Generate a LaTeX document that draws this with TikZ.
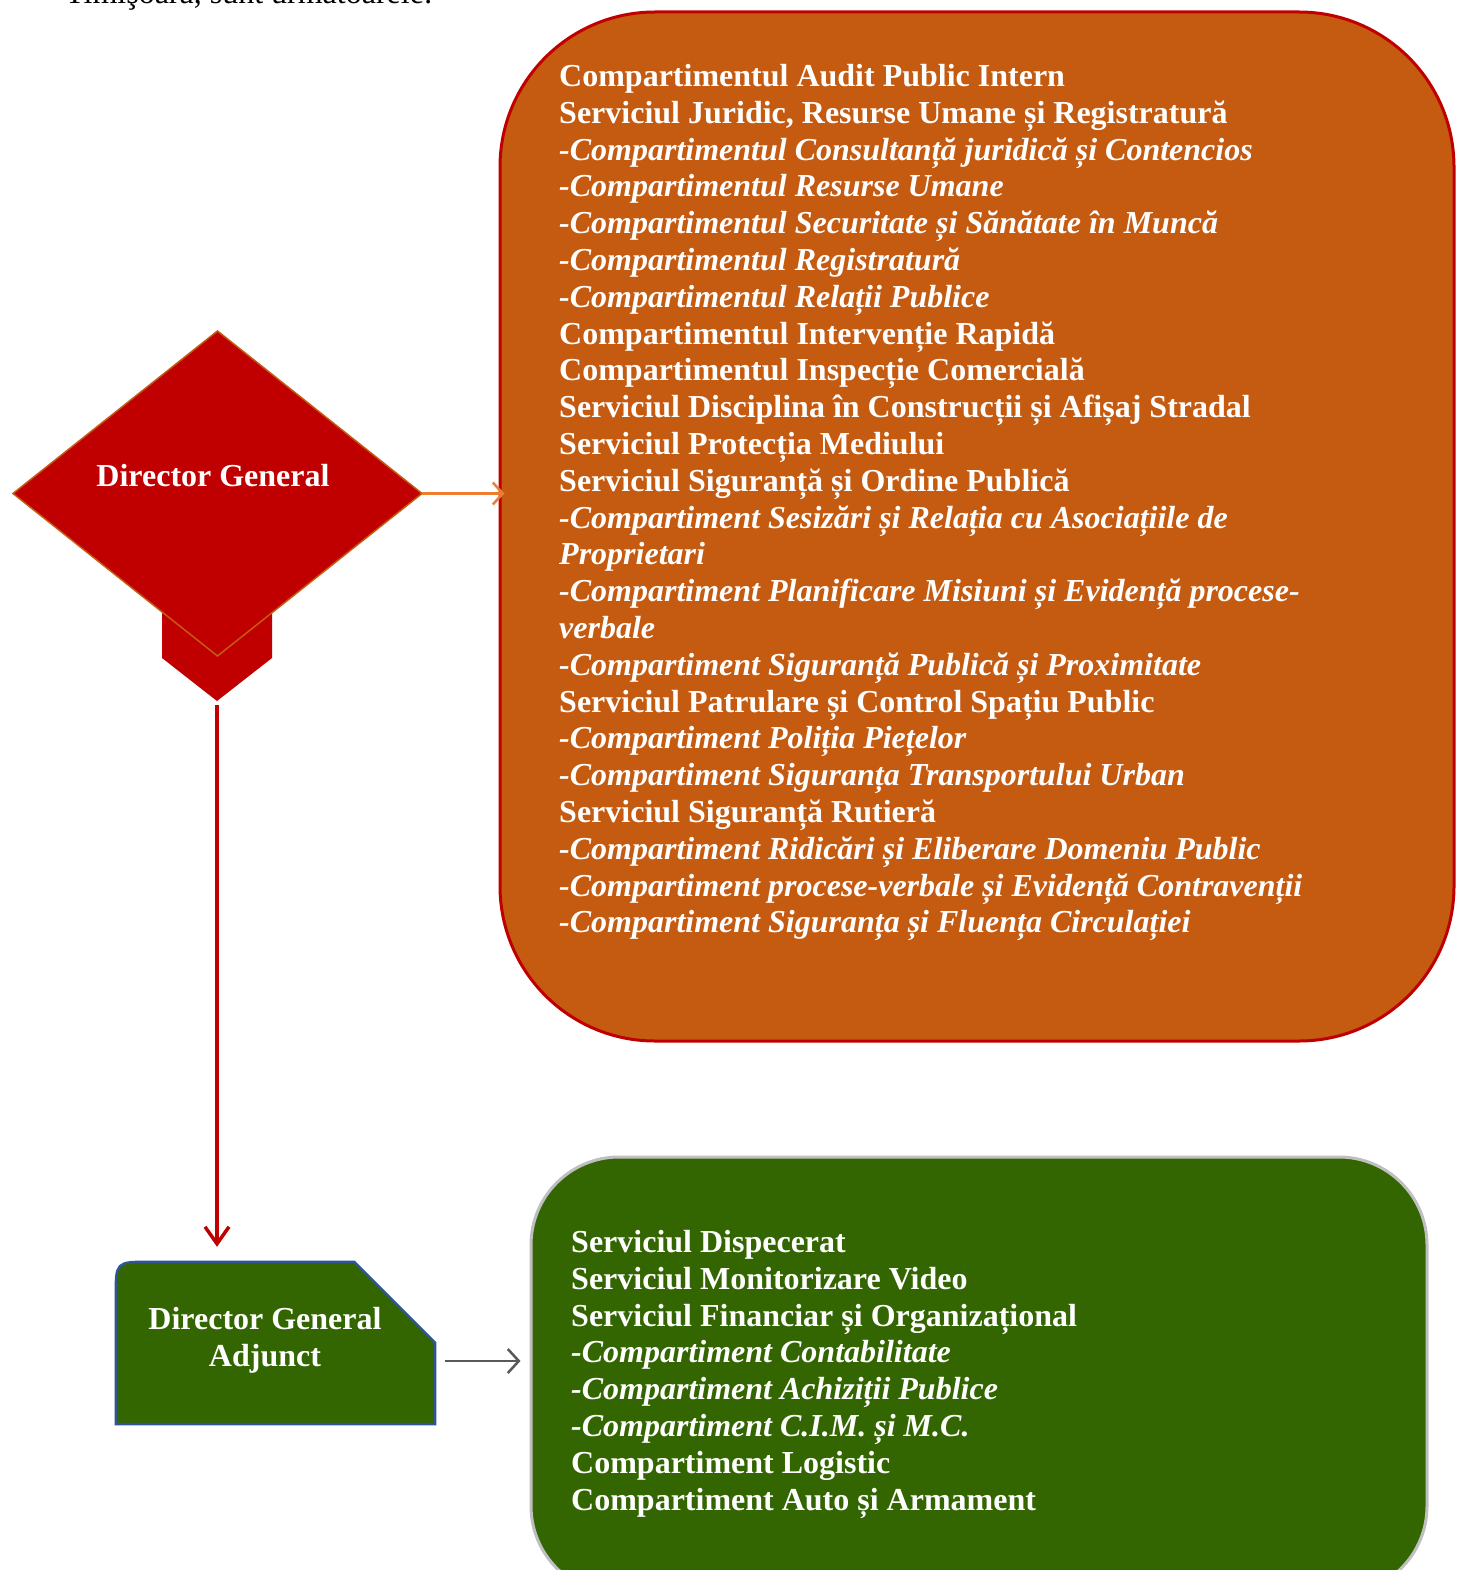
\documentclass[tikz,border=0pt]{standalone}
\usepackage{fontspec}
\setmainfont{Liberation Serif}
\usepackage{tikz}
\usetikzlibrary{shapes.geometric,arrows.meta}
\definecolor{orgfill}{HTML}{C55A11}
\definecolor{darkred}{HTML}{C00000}
\definecolor{grnfill}{HTML}{336600}
\definecolor{grnline}{HTML}{BFBFBF}
\definecolor{adjline}{HTML}{2F5597}
\definecolor{orgarrowcol}{HTML}{ED7D31}
\definecolor{grayarrowcol}{HTML}{595959}

\begin{document}
\begin{tikzpicture}[x=1pt,y=-1pt,
  txt/.style={font=\fontsize{32}{36.8}\selectfont\bfseries, text=white, inner sep=0pt},
  orgbox/.style={draw=darkred, line width=3pt, fill=orgfill, rounded corners=155pt, minimum width=954pt, minimum height=1029pt},
  grnbox/.style={draw=grnline, line width=3pt, fill=grnfill, rounded corners=88pt, minimum width=896pt, minimum height=437pt},
  dgshape/.style={diamond, draw=orgfill, line width=1.5pt, fill=darkred, minimum width=409pt, minimum height=325pt, inner sep=0pt, outer sep=0pt},
  adjbox/.style={draw=adjline, line width=2.5pt, fill=grnfill},
  orgarrow/.style={draw=orgarrowcol, line width=2.5pt, -{Straight Barb[length=10pt,width=22pt]}},
  redarrow/.style={draw=darkred, line width=3.5pt, -{Straight Barb[length=17pt,width=24pt]}},
  grayarrow/.style={draw=grayarrowcol, line width=2.5pt, -{Straight Barb[length=11pt,width=24pt]}}]
   \useasboundingbox (0,0) rectangle (1456,1570);
   \clip (0,0) rectangle (1456,1570);
   \node[anchor=base west, inner sep=0pt, font=\fontsize{32}{36.8}\selectfont] (intro) at (65,4) {Timişoara, sunt următoarele:}; % cut off line above

   % right hand boxes
   \node[orgbox] (org) at (977,526.5) {};
   \node[txt, anchor=north west, align=left] (orgtext) at (559,64) {Compartimentul Audit Public Intern\\
Serviciul Juridic, Resurse Umane și Registratură\\
\itshape -Compartimentul Consultanță juridică și Contencios\\
\itshape -Compartimentul Resurse Umane\\
\itshape -Compartimentul Securitate și Sănătate în Muncă\\
\itshape -Compartimentul Registratură\\
\itshape -Compartimentul Relații Publice\\
Compartimentul Intervenție Rapidă\\
Compartimentul Inspecție Comercială\\
Serviciul Disciplina în Construcții și Afișaj Stradal\\
Serviciul Protecția Mediului\\
Serviciul Siguranță și Ordine Publică\\
\itshape -Compartiment Sesizări și Relația cu Asociațiile de\\
\itshape Proprietari\\
\itshape -Compartiment Planificare Misiuni și Evidență procese-\\
\itshape verbale\\
\itshape -Compartiment Siguranță Publică și Proximitate\\
Serviciul Patrulare și Control Spațiu Public\\
\itshape -Compartiment Poliția Piețelor\\
\itshape -Compartiment Siguranța Transportului Urban\\
Serviciul Siguranță Rutieră\\
\itshape -Compartiment Ridicări și Eliberare Domeniu Public\\
\itshape -Compartiment procese-verbale și Evidență Contravenții\\
\itshape -Compartiment Siguranța și Fluența Circulației};

   \node[grnbox] (grn) at (979,1375.5) {};
   \node[txt, anchor=north west, align=left] (grntext) at (571,1230) {Serviciul Dispecerat\\
Serviciul Monitorizare Video\\
Serviciul Financiar și Organizațional\\
\itshape -Compartiment Contabilitate\\
\itshape -Compartiment Achiziții Publice\\
\itshape -Compartiment C.I.M. și M.C.\\
Compartiment Logistic\\
Compartiment Auto și Armament};

   % director general
   \fill[darkred] (162,590) -- (272,590) -- (272,658) -- (217,701) -- (162,658) -- cycle; % tail under the diamond
   \coordinate (dgtail) at (217,701);
   \node[dgshape] (dg) at (217.5,493.5) {};
   \node[txt] (dglabel) at (213,476) {Director General};

   % director general adjunct
   \node[minimum width=319pt, minimum height=162pt, inner sep=0pt] (dga) at (275.5,1343) {};
   \draw[adjbox] (dga.south west) -- ([yshift=-34pt]dga.north west)
      .. controls (dga.north west) .. ([xshift=34pt]dga.north west)
      -- ([xshift=-81pt]dga.north east) -- ([yshift=-81pt]dga.north east)
      -- (dga.south east) -- cycle;
   \node[txt, align=center] (dgalabel) at (265,1340) {Director General\\Adjunct};

   % arrows
   \draw[orgarrow, shorten >=-6pt] (dg.east) -- (dg.east -| org.west);
   \draw[redarrow, shorten >=15pt] ([yshift=-4pt]dgtail) -- (dgtail |- dga.north);
   \coordinate (gstart) at ([shift={(10pt,-18pt)}]dga.east);
   \draw[grayarrow, shorten >=9pt] (gstart) -- (gstart -| grn.west);
\end{tikzpicture}
\end{document}
